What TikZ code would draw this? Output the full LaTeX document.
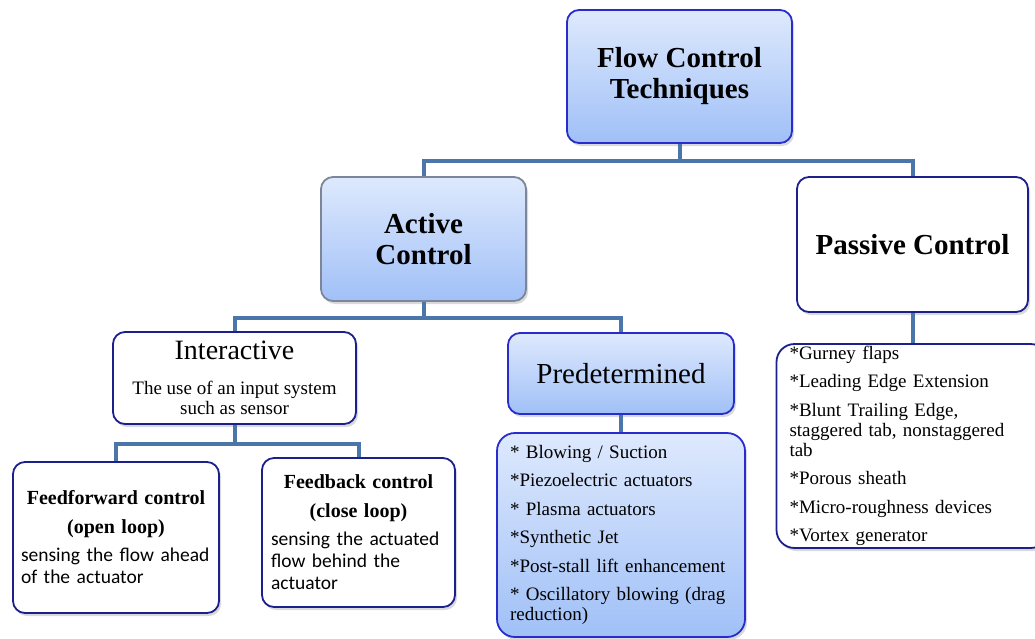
\documentclass[tikz,border=0pt]{standalone}
\usepackage{fontspec}
\setmainfont{Liberation Serif}
\newfontfamily\calibri{Carlito}
\usepackage{tikz}
\usetikzlibrary{shadows}

\definecolor{linkblue}{RGB}{74,118,170}
\definecolor{topblue}{RGB}{40,44,205}
\definecolor{navy}{RGB}{28,32,140}
\definecolor{greyedge}{RGB}{125,134,152}
\definecolor{boxtop}{RGB}{222,233,253}
\definecolor{boxbot}{RGB}{160,192,247}

\tikzset{
    box/.style={rounded corners=12pt, line width=1.8pt, align=center,
        drop shadow={shadow xshift=2pt, shadow yshift=-3pt, opacity=0.3}},
    shaded/.style={top color=boxtop, bottom color=boxbot},
    plain/.style={fill=white},
    link/.style={draw=linkblue, line width=4pt},
    titlefont/.style={font=\fontsize{29}{31}\selectfont\bfseries},
    listfont/.style={font=\fontsize{19}{20}\selectfont},
}

\begin{document}
\begin{tikzpicture}[x=1pt, y=-1pt]

    \useasboundingbox (0,0) rectangle (1035,638);

    % top levels
    \node[box, shaded, draw=topblue, titlefont, minimum width=225pt, minimum height=133pt] (flow) at (679.5,76.5) {Flow Control\\Techniques};
    \node[box, shaded, draw=greyedge, titlefont, minimum width=205pt, minimum height=124pt] (active) at (423.5,239) {Active\\Control};
    \node[box, plain, draw=navy, titlefont, minimum width=231pt, minimum height=135pt] (passive) at (912.5,244.5) {Passive Control};

    \node[box, plain, draw=navy, listfont, minimum width=243pt, minimum height=92pt] (inter) at (234.5,378)
        {{\fontsize{28}{30}\selectfont Interactive}\\[15pt]The use of an input system\\such as sensor};
    \node[box, shaded, draw=topblue, font=\fontsize{29}{31}\selectfont, minimum width=226pt, minimum height=81pt] (predet) at (621,373.5) {Predetermined};

    % bottom level
    \node[box, plain, draw=navy, align=left, inner xsep=8pt, inner ysep=2pt, text width=190pt, minimum height=151pt,
        font=\calibri\fontsize{19.5}{22}\selectfont] (ffwd) at (116,537.5)
        {{\centering\rmfamily\bfseries\fontsize{20}{22}\selectfont Feedforward control\\[7pt](open loop)\par}\vspace{6pt}sensing the flow ahead\\of the actuator};
    \node[box, plain, draw=navy, align=left, inner xsep=9pt, inner ysep=2pt, text width=175pt, minimum height=149pt,
        font=\calibri\fontsize{19.5}{22}\selectfont] (fback) at (358.5,532.5)
        {{\centering\rmfamily\bfseries\fontsize{20}{22}\selectfont Feedback control\\[7pt](close loop)\par}\vspace{6pt}sensing the actuated\\flow behind the\\actuator};

    \node[box, shaded, draw=topblue, listfont, align=left, inner xsep=13pt, inner ysep=2pt, text width=222pt, minimum height=204pt,
        rounded corners=18pt] (predlist) at (621,535)
        {* Blowing / Suction\\[8.5pt]*Piezoelectric actuators\\[8.5pt]* Plasma actuators\\[8.5pt]*Synthetic Jet\\[8.5pt]*Post-stall lift enhancement\\[8.5pt]* Oscillatory blowing (drag\\reduction)};
    \node[box, plain, draw=navy, listfont, align=left, inner xsep=13pt, inner ysep=2pt, text width=246pt, minimum height=202pt,
        rounded corners=18pt] (passlist) at (912.5,446)
        {*Gurney flaps\\[8.5pt]*Leading Edge Extension\\[8.5pt]*Blunt Trailing Edge,\\staggered tab, nonstaggered\\tab\\[8.5pt]*Porous sheath\\[8.5pt]*Micro-roughness devices\\[8.5pt]*Vortex generator};

    % connectors
    \draw[link] (flow.south) -- ++(0,17) -| (active.north);
    \draw[link] (flow.south) -- ++(0,17) -| (passive.north);
    \draw[link] (active.south) -- ++(0,16) -| (inter.north);
    \draw[link] (active.south) -- ++(0,16) -| (predet.north);
    \draw[link] (inter.south) -- ++(0,19) -| (ffwd.north);
    \draw[link] (inter.south) -- ++(0,19) -| (fback.north);
    \draw[link] (predet.south) -- (predlist.north);
    \draw[link] (passive.south) -- (passlist.north);

\end{tikzpicture}
\end{document}
